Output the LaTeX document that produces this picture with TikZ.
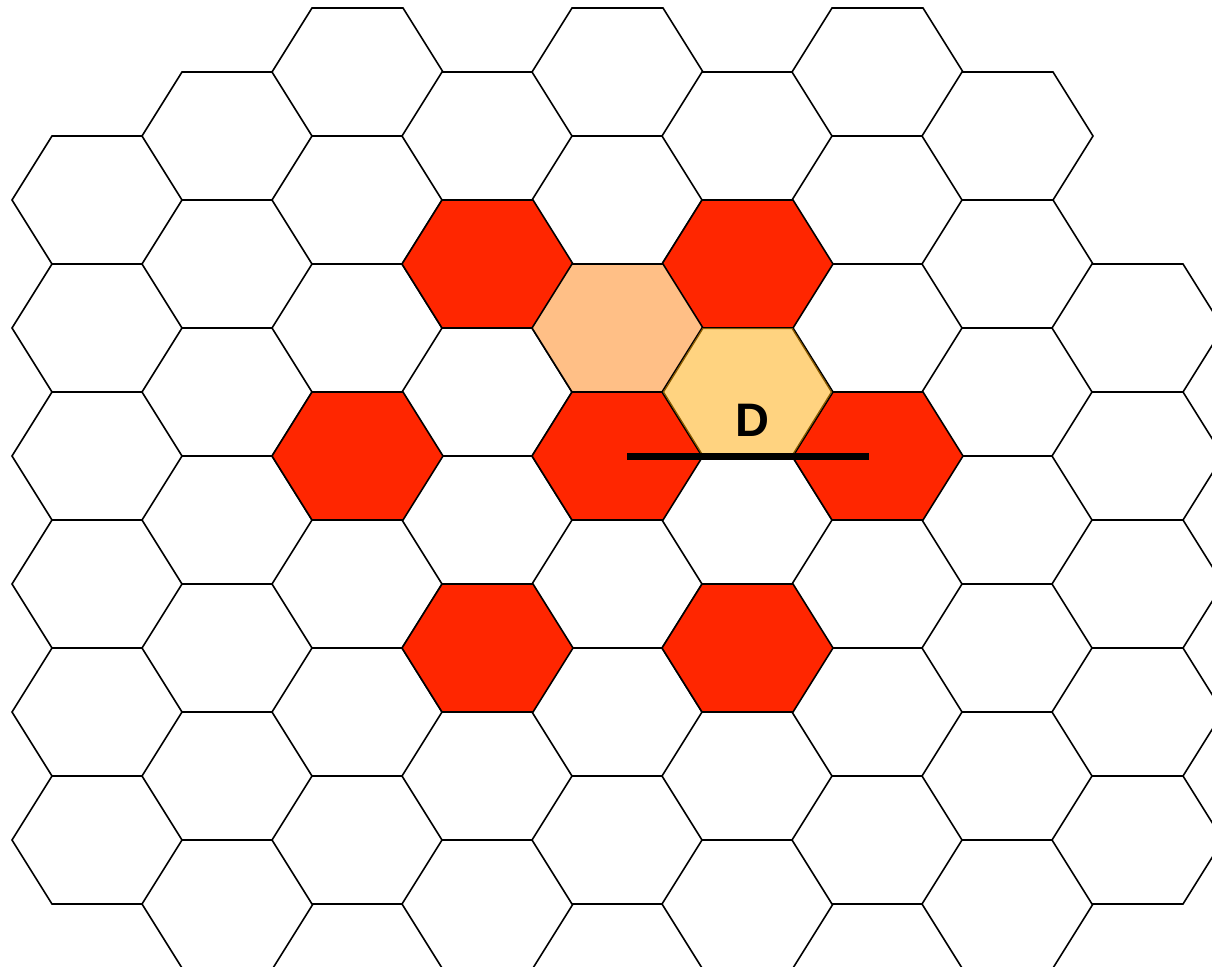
\documentclass[tikz,border=0pt]{standalone}
\usepackage{fontspec}
\setmainfont{Liberation Sans}
\definecolor{hexred}{HTML}{FF2600}
\definecolor{hexorange}{HTML}{FFBF86}
\definecolor{hexyellow}{HTML}{FFD380}
\definecolor{hexbrown}{HTML}{8A5A00}
\newcommand{\hexshape}{(-85.5,0) -- (-45.5,-64) -- (45.5,-64) -- (85.5,0) -- (45.5,64) -- (-45.5,64) -- cycle}
\tikzset{
  hexcell/.style={draw=black, line width=1.6pt, line join=miter, fill=white},
  redcell/.style={hexcell, fill=hexred},
  orangecell/.style={hexcell, fill=hexorange},
  yellowcell/.style={hexcell, fill=hexyellow},
  yellowrim/.style={draw=hexbrown, line width=1.2pt, line join=miter},
  labeltext/.style={font=\bfseries\fontsize{47}{47}\selectfont, inner sep=0pt},
  baseline/.style={draw=black, line width=7pt}
}
\begin{document}
\begin{tikzpicture}[x=1pt,y=-1pt]
\useasboundingbox (0,0) rectangle (1212,966);
\clip (0,0) rectangle (1212,966);
\fill[white] (0,0) rectangle (1212,966);
% grid of hexagons: column / first centre y / number of extra rows
\foreach \c/\first/\n in {0/200/5, 1/136/6, 2/72/6, 3/136/6, 4/72/6, 5/136/6, 6/72/6, 7/136/6, 8/328/4} {
  \foreach \k in {0,...,\n} {
    \draw[hexcell, shift={(97.5+130*\c, \first+128*\k)}] \hexshape;
  }
}
% red cells
\foreach \c/\y in {3/264, 5/264, 2/456, 4/456, 6/456, 3/648, 5/648} {
  \draw[redcell, shift={(97.5+130*\c, \y)}] \hexshape;
}
% orange cell
\draw[orangecell, shift={(617.5, 328)}] \hexshape;
% yellow cell
\draw[yellowcell, shift={(747.5, 392)}] \hexshape;
\draw[yellowrim, shift={(747.5, 392)}, xscale=0.982, yscale=0.99] \hexshape;
% label and bar
\node[labeltext] (D) at (752,420) {D};
\coordinate (barL) at (627,456);
\coordinate (barR) at (869,456);
\draw[baseline] (barL) -- (barR);
\end{tikzpicture}
\end{document}
